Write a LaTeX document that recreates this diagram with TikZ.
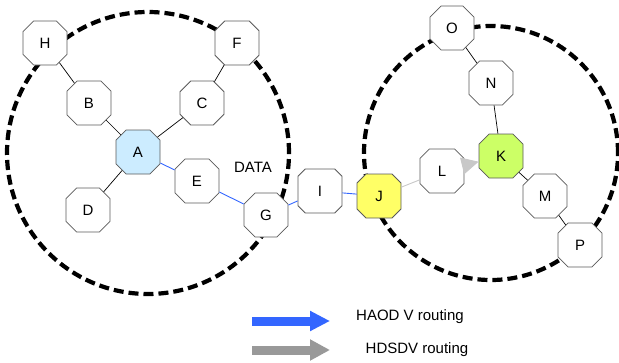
\documentclass[tikz,border=0pt]{standalone}
\usepackage{fontspec}
\setmainfont{Liberation Sans}
\usetikzlibrary{shapes.misc,arrows.meta}
\definecolor{nodeborder}{HTML}{5A5A5A}
\definecolor{abl}{HTML}{CCECFF}
\definecolor{jyel}{HTML}{FFFF66}
\definecolor{kgrn}{HTML}{CCFF66}
\definecolor{hblue}{HTML}{3366FF}
\definecolor{lgray}{HTML}{C8C8C8}
\definecolor{agray}{HTML}{999999}
\begin{document}
\begin{tikzpicture}[x=1pt,y=-1pt,
  oct/.style={chamfered rectangle, chamfered rectangle xsep=8.5pt, chamfered rectangle ysep=8.5pt,
    minimum width=44pt, minimum height=44pt, inner sep=0pt, draw=nodeborder, line width=0.8pt,
    fill=white, font=\fontsize{15}{17}\selectfont},
  zone/.style={line width=4.2pt, dash pattern=on 10pt off 5pt},
  link/.style={line width=0.7pt, black},
  hlink/.style={line width=0.9pt, hblue},
  glink/.style={line width=0.9pt, lgray},
  lbl/.style={font=\fontsize{15}{17}\selectfont, inner sep=0pt}]
\useasboundingbox (0,0) rectangle (619,362);
% zones
\draw[zone] (148,153) circle[radius=141pt];
\draw[zone] (491,153) circle[radius=127pt];
% nodes
\node[oct] (H) at (45,43) {H};
\node[oct] (B) at (89,103) {B};
\node[oct] (C) at (202,103) {C};
\node[oct] (F) at (237,43) {F};
\node[oct, fill=abl] (A) at (138,152) {A};
\node[oct] (D) at (88,210) {D};
\node[oct] (E) at (197,181) {E};
\node[oct] (G) at (266,215) {G};
\node[oct] (I) at (320,191) {I};
\node[oct, fill=jyel] (J) at (379,196) {J};
\node[oct] (L) at (442,171) {L};
\node[oct, fill=kgrn] (K) at (501,156) {K};
\node[oct] (N) at (491,83) {N};
\node[oct] (O) at (452,28) {O};
\node[oct] (M) at (545,196) {M};
\node[oct] (P) at (580,245) {P};
% edges
\draw[link] (H) -- (B);
\draw[link] (B) -- (A);
\draw[link] (A) -- (C);
\draw[link] (C) -- (F);
\draw[link] (A) -- (D);
\draw[hlink] (A) -- (E);
\draw[hlink] (E) -- (G);
\draw[hlink] (G) -- (I);
\draw[hlink] (I) -- (J);
\draw[glink] (J) -- (L);
\draw[line width=0.9pt, lgray, -{Triangle[length=17pt,width=17pt]}] (L) -- (K);
\draw[link] (K) -- (N);
\draw[link] (N) -- (O);
\draw[link] (K) -- (M);
\draw[link] (M) -- (P);
% labels
\node[lbl] (data) at (253,167) {DATA};
% legend
\coordinate (b1s) at (252,321);
\coordinate (b1e) at (330,321);
\coordinate (b2s) at (252,350);
\coordinate (b2e) at (330,350);
\draw[line width=9pt, hblue, -{Triangle[length=20pt,width=19pt]}] (b1s) -- (b1e);
\draw[line width=9pt, agray, -{Triangle[length=20pt,width=20pt]}] (b2s) -- (b2e);
\node[lbl] (t1) at (410,317) {HAOD V routing};
\node[lbl] (t2) at (417,350) {HDSDV routing};
\end{tikzpicture}
\end{document}
